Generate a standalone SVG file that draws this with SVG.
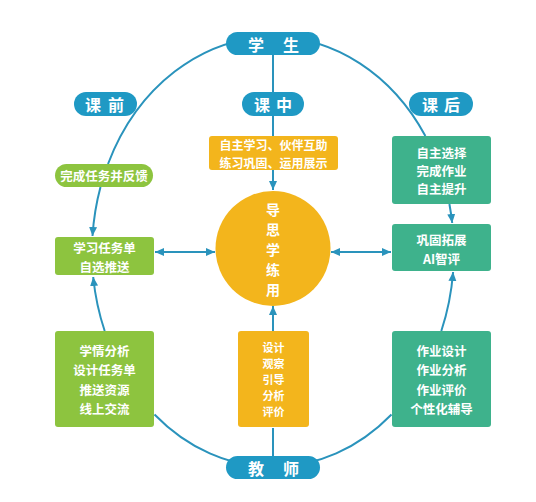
<svg xmlns="http://www.w3.org/2000/svg" width="536" height="502" viewBox="0 0 536 502">
<style>
.pill{fill:#1F99C4}
.green{fill:#8DC43F}
.orange{fill:#F3B51C}
.teal{fill:#3EB28C}
.t{font-family:"Noto Sans CJK SC","Noto Sans",sans-serif;fill:#fff;text-anchor:middle;dominant-baseline:central}
.pt{font-size:16px;font-weight:bold}
.bt{font-size:12.5px;font-weight:bold}
.mt{font-size:12px;font-weight:bold}
.st{font-size:11px;font-weight:bold}
.ct{font-size:14px;font-weight:bold}
.ln{fill:none;stroke:#2A93BC;stroke-width:2}
</style>
<defs>
<marker id="ah" markerUnits="userSpaceOnUse" markerWidth="10" markerHeight="10" refX="9" refY="5" orient="auto-start-reverse">
<path d="M0,1 L9,5 L0,9 Z" fill="#2A93BC"/>
</marker>
</defs>
<rect width="536" height="502" fill="#fff"/>
<g id="connectors">
<path class="ln" d="M273 37 A181 215 0 0 0 108 164"/>
<path class="ln" marker-end="url(#ah)" d="M100.5 187 A181 215 0 0 0 92.5 236"/>
<path class="ln" marker-end="url(#ah)" d="M104.7 331 A181 215 0 0 1 93.2 277"/>
<path class="ln" d="M154.5 414.5 A181 215 0 0 0 273 467"/>
<path class="ln" d="M273 37 A181 215 0 0 1 425.4 136"/>
<path class="ln" marker-end="url(#ah)" d="M449.4 204 A181 215 0 0 1 452.2 223"/>
<path class="ln" marker-end="url(#ah)" d="M441.3 331 A181 215 0 0 0 453.1 272"/>
<path class="ln" d="M391.5 414.5 A181 215 0 0 1 273 467"/>
<path class="ln" d="M273 54 V92 M273 116 V136 M273 428 V456"/>
<path class="ln" marker-end="url(#ah)" d="M273 170 V190"/>
<path class="ln" marker-end="url(#ah)" d="M273 331 V306"/>
<path class="ln" marker-start="url(#ah)" marker-end="url(#ah)" d="M155 252 H215"/>
<path class="ln" marker-start="url(#ah)" marker-end="url(#ah)" d="M331 252 H391"/>
</g>
<g id="student">
<rect class="pill" x="226" y="32" width="94" height="23" rx="11.5"/>
<text class="t pt" y="43.5"><tspan x="256">学</tspan><tspan x="291">生</tspan></text>
</g>
<g id="before">
<rect class="pill" x="74" y="92" width="63" height="24" rx="12"/>
<text class="t pt" y="104"><tspan x="93">课</tspan><tspan x="116">前</tspan></text>
</g>
<g id="during">
<rect class="pill" x="242" y="92" width="62" height="24" rx="12"/>
<text class="t pt" y="104"><tspan x="262">课</tspan><tspan x="284">中</tspan></text>
</g>
<g id="after">
<rect class="pill" x="409" y="92" width="64" height="24" rx="12"/>
<text class="t pt" y="104"><tspan x="430">课</tspan><tspan x="452">后</tspan></text>
</g>
<g id="teacher">
<rect class="pill" x="226" y="456" width="94" height="23" rx="11.5"/>
<text class="t pt" y="467.5"><tspan x="256">教</tspan><tspan x="291">师</tspan></text>
</g>
<g id="feedback">
<rect class="green" x="55" y="164" width="98" height="23" rx="11.5"/>
<text class="t bt" x="104" y="175.5">完成任务并反馈</text>
</g>
<g id="tasksheet">
<rect class="green" x="55" y="237" width="99" height="38" rx="3"/>
<text class="t bt" x="104.5" y="247">学习任务单</text>
<text class="t bt" x="104.5" y="266">自选推送</text>
</g>
<g id="teacher-before">
<rect class="green" x="55" y="331" width="99" height="96" rx="3"/>
<text class="t bt" x="104.5" y="350">学情分析</text>
<text class="t bt" x="104.5" y="369.5">设计任务单</text>
<text class="t bt" x="104.5" y="389">推送资源</text>
<text class="t bt" x="104.5" y="408.5">线上交流</text>
</g>
<g id="student-during">
<rect class="orange" x="209" y="136" width="129" height="34" rx="3"/>
<text class="t mt" x="273.5" y="144.5">自主学习、伙伴互助</text>
<text class="t mt" x="273.5" y="162.5">练习巩固、运用展示</text>
</g>
<g id="core">
<circle class="orange" cx="273" cy="248.5" r="57.5"/>
<text class="t ct" x="273" y="208.5">导</text>
<text class="t ct" x="273" y="228.5">思</text>
<text class="t ct" x="273" y="248.5">学</text>
<text class="t ct" x="273" y="268.5">练</text>
<text class="t ct" x="273" y="288.5">用</text>
</g>
<g id="teacher-during">
<rect class="orange" x="238" y="331" width="71" height="96" rx="3"/>
<text class="t st" x="273.5" y="347">设计</text>
<text class="t st" x="273.5" y="363">观察</text>
<text class="t st" x="273.5" y="379">引导</text>
<text class="t st" x="273.5" y="395">分析</text>
<text class="t st" x="273.5" y="411">评价</text>
</g>
<g id="student-after">
<rect class="teal" x="392" y="136" width="99" height="68" rx="3"/>
<text class="t bt" x="441.5" y="152">自主选择</text>
<text class="t bt" x="441.5" y="170">完成作业</text>
<text class="t bt" x="441.5" y="188">自主提升</text>
</g>
<g id="consolidate">
<rect class="teal" x="392" y="224" width="99" height="47" rx="3"/>
<text class="t bt" x="441.5" y="239">巩固拓展</text>
<text class="t bt" x="441.5" y="258.5">AI智评</text>
</g>
<g id="teacher-after">
<rect class="teal" x="392" y="331" width="99" height="96" rx="3"/>
<text class="t bt" x="441.5" y="350">作业设计</text>
<text class="t bt" x="441.5" y="369.5">作业分析</text>
<text class="t bt" x="441.5" y="389">作业评价</text>
<text class="t bt" x="441.5" y="408.5">个性化辅导</text>
</g>
</svg>
